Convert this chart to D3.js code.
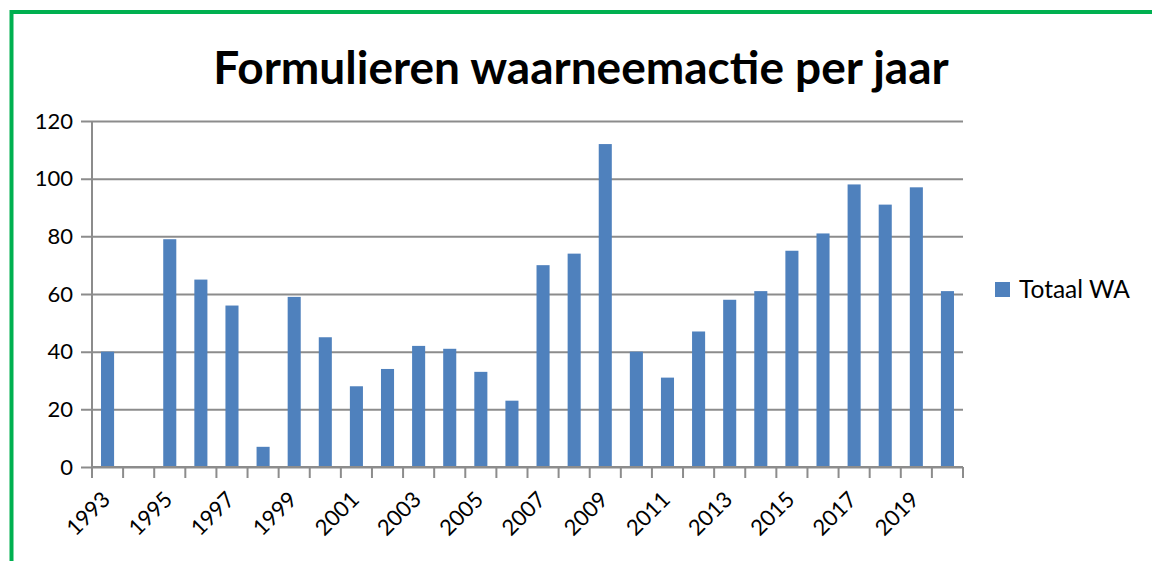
<!DOCTYPE html>
<html>
<head>
<meta charset="utf-8">
<script src="https://cdn.jsdelivr.net/npm/d3@7"></script>
<style>
  body { margin: 0; background: #fff; }
  svg { display: block; font-family: Lato, "Open Sans", sans-serif; }
</style>
</head>
<body>
<script>
const years = d3.range(1993, 2021);
const totaalWA = [40, 0, 79, 65, 56, 7, 59, 45, 28, 34, 42, 41, 33, 23, 70, 74, 112, 40, 31, 47, 58, 61, 75, 81, 98, 91, 97, 61];
const yTicks = [0, 20, 40, 60, 80, 100, 120];
const title = 'Formulieren waarneemactie per jaar';
const seriesName = 'Totaal WA';

const W = 1152, H = 561;
const m = { left: 92, right: 963, top: 121, bottom: 467 };
const barColor = '#4f81bd';
const gridColor = '#8c8c8c';

const svg = d3.select('body').append('svg').attr('width', W).attr('height', H);

// green frame (top + left)
svg.append('path')
  .attr('d', `M11.5,${H} V12 H${W}`)
  .attr('fill', 'none')
  .attr('stroke', '#00b050')
  .attr('stroke-width', 4);

const x = d3.scaleBand().domain(years).range([m.left, m.right]).paddingInner(0.58).paddingOuter(0.29);
const y = d3.scaleLinear().domain([0, 120]).range([m.bottom, m.top]);

// gridlines with outward ticks
const yAxis = svg.append('g')
  .attr('transform', `translate(${m.left},0)`)
  .call(d3.axisLeft(y).tickValues(yTicks).tickSize(-(m.right - m.left)).tickSizeOuter(0).tickPadding(19));
yAxis.select('.domain').remove();
yAxis.selectAll('.tick line')
  .attr('x1', -11)
  .attr('stroke', gridColor)
  .attr('stroke-width', 2);
yAxis.selectAll('.tick text')
  .attr('font-size', 22)
  .attr('fill', '#000')
  .attr('font-family', 'Lato, sans-serif');

// vertical axis line
svg.append('line')
  .attr('x1', m.left).attr('x2', m.left)
  .attr('y1', m.top).attr('y2', m.bottom + 11)
  .attr('stroke', gridColor).attr('stroke-width', 2);

// bars
svg.append('g').selectAll('rect')
  .data(totaalWA)
  .join('rect')
  .attr('x', (d, i) => x(years[i]))
  .attr('y', d => y(d))
  .attr('width', x.bandwidth())
  .attr('height', d => Math.max(y(0) - y(d), 1))
  .attr('fill', barColor);

// x axis: ticks between bands
const step = x.step();
const xTickPos = d3.range(years.length + 1).map(i => m.left + i * step);
const xg = svg.append('g');
xg.append('line')
  .attr('x1', m.left).attr('x2', m.right)
  .attr('y1', m.bottom).attr('y2', m.bottom)
  .attr('stroke', gridColor).attr('stroke-width', 2);
xg.selectAll('line.tk')
  .data(xTickPos)
  .join('line')
  .attr('class', 'tk')
  .attr('x1', d => d).attr('x2', d => d)
  .attr('y1', m.bottom).attr('y2', m.bottom + 11)
  .attr('stroke', gridColor).attr('stroke-width', 2);

xg.selectAll('text')
  .data(years.filter((d, i) => i % 2 === 0))
  .join('text')
  .attr('transform', d => `translate(${x(d) + x.bandwidth() / 2 + 4},${m.bottom + 34}) rotate(-45)`)
  .attr('text-anchor', 'end')
  .attr('font-size', 22)
  .text(d => d);

// title
svg.append('text')
  .attr('x', 581)
  .attr('y', 84)
  .attr('text-anchor', 'middle')
  .attr('font-size', 46)
  .attr('font-weight', 'bold')
  .text(title);

// legend
svg.append('rect')
  .attr('x', 995).attr('y', 282)
  .attr('width', 15).attr('height', 15)
  .attr('fill', barColor);
svg.append('text')
  .attr('x', 1019).attr('y', 289.5)
  .attr('dy', '0.35em')
  .attr('font-size', 24.5)
  .text(seriesName);
</script>
</body>
</html>
